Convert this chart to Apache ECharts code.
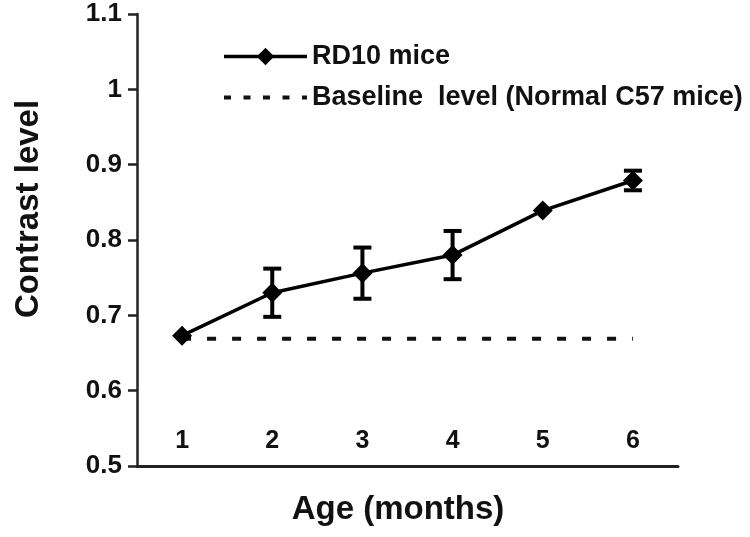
<!DOCTYPE html>
<html>
<head>
<meta charset="utf-8">
<script src="https://cdn.jsdelivr.net/npm/echarts@6/dist/echarts.min.js"></script>
<style>html,body{margin:0;padding:0;background:#fff}#c{width:750px;height:537px}</style>
</head>
<body>
<div id="c"></div>
<script>
var months = ['1', '2', '3', '4', '5', '6'];
var rd10Mean = [0.673, 0.730, 0.756, 0.780, 0.839, 0.879];
var rd10Err = [0, 0.032, 0.034, 0.032, 0, 0.013];
var baselineLevel = [0.669, 0.669, 0.669, 0.669, 0.669, 0.669];
var yTicks = { min: 0.5, max: 1.1, interval: 0.1 };

var FONT = '"Liberation Sans", Arial, sans-serif';
var chart = echarts.init(document.getElementById('c'));

var errData = months.map(function (m, i) { return [i, rd10Mean[i], rd10Err[i]]; });

chart.setOption({
  animation: false,
  backgroundColor: '#fff',
  grid: { left: 137, right: 72, top: 14, bottom: 71 },
  legend: {
    orient: 'vertical',
    left: 217,
    top: 38,
    itemWidth: 83,
    itemHeight: 22,
    itemGap: 14,
    textStyle: { fontFamily: FONT, fontSize: 27, fontWeight: 'bold', color: '#111' },
    data: [
      { name: 'RD10 mice', lineStyle: { width: 3.5 } },
      { name: 'Baseline  level (Normal C57 mice)', lineStyle: { type: [7, 12.5], width: 4 }, itemStyle: { opacity: 0 } }
    ]
  },
  xAxis: {
    type: 'category',
    data: months,
    boundaryGap: true,
    axisLine: { lineStyle: { color: '#222', width: 3 } },
    axisTick: { show: false },
    axisLabel: { inside: true, margin: 12, fontFamily: FONT, fontSize: 25, fontWeight: 'bold', color: '#111' },
    name: 'Age (months)',
    nameLocation: 'middle',
    nameGap: 27,
    nameTextStyle: { fontFamily: FONT, fontSize: 33, fontWeight: 'bold', color: '#111', padding: [0, 19, 0, 0] }
  },
  yAxis: {
    type: 'value',
    min: yTicks.min,
    max: yTicks.max,
    interval: yTicks.interval,
    axisLine: { show: true, lineStyle: { color: '#222', width: 2.5 } },
    axisTick: { show: true, length: 9, lineStyle: { color: '#222', width: 2.5 } },
    splitLine: { show: false },
    axisLabel: { margin: 15, fontFamily: FONT, fontSize: 26, fontWeight: 'bold', color: '#111' }
  },
  graphic: [{
    type: 'text',
    x: 29,
    y: 209,
    rotation: Math.PI / 2,
    style: {
      text: 'Contrast level',
      fontFamily: FONT, fontSize: 33, fontWeight: 'bold', fill: '#111',
      align: 'center', verticalAlign: 'middle'
    }
  }],
  series: [
    {
      name: 'Baseline  level (Normal C57 mice)',
      type: 'line',
      data: baselineLevel,
      symbol: 'none',
      z: 1,
      lineStyle: { color: '#111', width: 4, type: [9, 16] },
      itemStyle: { color: '#111' }
    },
    {
      name: 'RD10 mice',
      type: 'line',
      data: rd10Mean,
      symbol: 'diamond',
      symbolSize: 20,
      z: 3,
      lineStyle: { color: '#000', width: 3.5 },
      itemStyle: { color: '#000' }
    },
    {
      type: 'custom',
      data: errData,
      z: 4,
      encode: { x: 0, y: 1 },
      renderItem: function (params, api) {
        var idx = api.value(0), m = api.value(1), e = api.value(2);
        if (!e) return null;
        var hi = api.coord([idx, m + e]);
        var lo = api.coord([idx, m - e]);
        var hw = 9;
        var st = { stroke: '#000', lineWidth: 4 };
        return {
          type: 'group',
          children: [
            { type: 'line', shape: { x1: hi[0], y1: hi[1], x2: lo[0], y2: lo[1] }, style: st },
            { type: 'line', shape: { x1: hi[0] - hw, y1: hi[1], x2: hi[0] + hw, y2: hi[1] }, style: st },
            { type: 'line', shape: { x1: lo[0] - hw, y1: lo[1], x2: lo[0] + hw, y2: lo[1] }, style: st }
          ]
        };
      }
    }
  ]
});
</script>
</body>
</html>
